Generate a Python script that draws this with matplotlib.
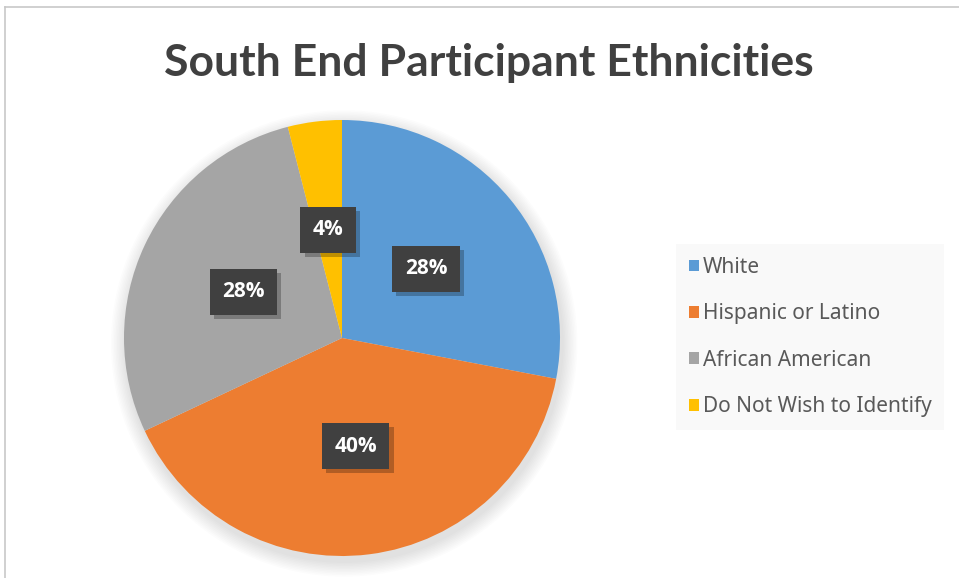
import matplotlib
matplotlib.use("Agg")
import matplotlib.pyplot as plt
import matplotlib.patheffects as pe
from matplotlib.patches import Patch, Circle
from matplotlib.lines import Line2D

categories = ["White", "Hispanic or Latino", "African American", "Do Not Wish to Identify"]
counts = [7, 10, 7, 1]
colors = ["#5B9BD5", "#ED7D31", "#A5A5A5", "#FFC000"]

fig = plt.figure(figsize=(9.59, 5.78), dpi=100)
fig.patch.set_facecolor("white")

# thin frame of the chart area (top and left edges visible)
fig.add_artist(Line2D([5 / 959, 1.0], [1 - 7 / 578, 1 - 7 / 578], transform=fig.transFigure,
                      color="#C8C8C8", lw=1.2))
fig.add_artist(Line2D([5 / 959, 5 / 959], [0, 1 - 7 / 578], transform=fig.transFigure,
                      color="#C8C8C8", lw=1.2))

lim = 1.12
r_px = 218
ax = fig.add_axes([(342 - r_px * lim) / 959, (578 - 338 - r_px * lim) / 578,
                   2 * r_px * lim / 959, 2 * r_px * lim / 578])

# soft shadow under the pie
for i in range(10):
    ax.add_patch(Circle((0.01, -0.025), 1.0 + 0.007 * (10 - i), color="black",
                        alpha=0.012, lw=0, zorder=0))

wedges, texts, autotexts = ax.pie(
    counts, colors=colors, startangle=90, counterclock=False,
    autopct=lambda p: f"{p:.0f}%", pctdistance=0.5, radius=1.0,
    wedgeprops=dict(linewidth=0),
    textprops=dict(color="white", fontsize=15, fontweight="bold", family="Open Sans"),
)
ax.set_xlim(-lim, lim)
ax.set_ylim(-lim, lim)
ax.set_aspect("equal")
ax.axis("off")

for w in wedges:
    w.set_zorder(2)
for t in autotexts:
    t.set_zorder(5)
    t.set_bbox(dict(boxstyle="square,pad=0.6", facecolor="#404040", edgecolor="none"))
    t.get_bbox_patch().set_path_effects([
        pe.SimplePatchShadow(offset=(3, -3), shadow_rgbFace="black", alpha=0.25),
        pe.Normal(),
    ])

fig.text(489 / 959, 1 - 76 / 578, "South End Participant Ethnicities", ha="center", va="baseline",
         fontsize=32, fontweight="bold", color="#404040", family="Lato")

handles = [Patch(facecolor=c, edgecolor="none") for c in colors]
leg = fig.legend(handles, categories, loc="center left", bbox_to_anchor=(676 / 959, 1 - 337 / 578),
                 frameon=True, fancybox=False, facecolor="#F9F9F9", edgecolor="none", framealpha=1,
                 prop=dict(family="Noto Sans", size=15), labelcolor="#595959",
                 handlelength=0.5, handleheight=0.5, handletextpad=0.2,
                 labelspacing=1.22, borderpad=0.6, borderaxespad=0)

fig.savefig("out.png", dpi=100, facecolor="white")
